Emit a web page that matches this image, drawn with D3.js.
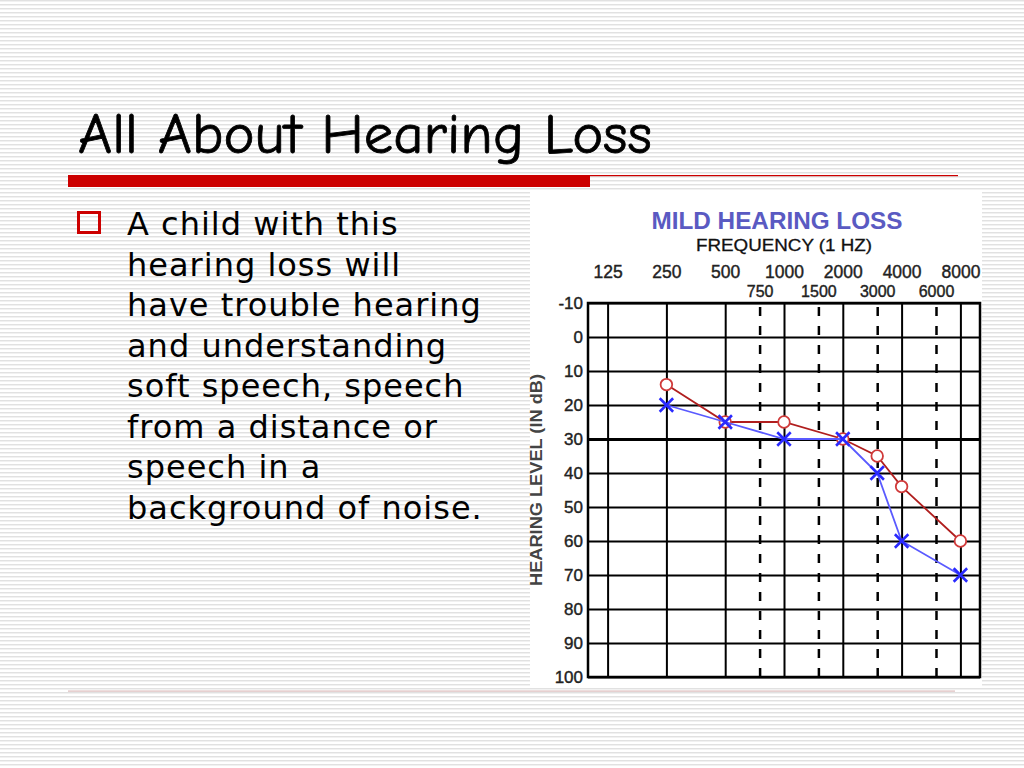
<html>
  <head>
    <meta charset="utf-8">
    <script src="https://d3js.org/d3.v7.min.js"></script>
    <style>
      body { margin: 0; background: #fff; }
      svg { display: block; }
    </style>
  </head>
  <body>
    <svg id="slide" width="1024" height="768"></svg>

    <script>
      // audiogram readings
      var freqs = [250, 500, 1000, 2000, 3000, 4000, 8000];
      var redDb = [14, 25, 25, 30, 35, 44, 60];     // circles
      var blueDb = [20, 25, 30, 30, 40, 60, 70];    // crosses

      var majorFreqs = [125, 250, 500, 1000, 2000, 4000, 8000];
      var midFreqs = [750, 1500, 3000, 6000];
      var dbTicks = [-10, 0, 10, 20, 30, 40, 50, 60, 70, 80, 90, 100];

      var bodyLines = [
        "A child with this",
        "hearing loss will",
        "have trouble hearing",
        "and understanding",
        "soft speech, speech",
        "from a distance or",
        "speech in a",
        "background of noise."
      ];

      var svg = d3.select("#slide");

      // striped slide background
      var defs = svg.append("defs");
      var pat = defs.append("pattern")
        .attr("id", "stripes")
        .attr("patternUnits", "userSpaceOnUse")
        .attr("width", 8).attr("height", 4);
      pat.append("rect").attr("width", 8).attr("height", 4).attr("fill", "#fff");
      pat.append("rect").attr("y", 0).attr("width", 8).attr("height", 1).attr("fill", "#e1e1e1");
      pat.append("rect").attr("y", 1).attr("width", 8).attr("height", 1).attr("fill", "#f1f1f1");
      svg.append("rect").attr("width", 1024).attr("height", 768).attr("fill", "url(#stripes)");

      // slide title
      svg.append("text")
        .attr("x", 78).attr("y", 153)
        .attr("textLength", 574).attr("lengthAdjust", "spacingAndGlyphs")
        .style("font-family", "'Comic Sans MS', 'Comic Neue', 'DejaVu Sans', sans-serif")
        .style("font-size", "57px")
        .attr("fill", "#000")
        .attr("stroke", "#000").attr("stroke-width", 0.8)
        .text("All About Hearing Loss");

      // red rule under the title
      svg.append("rect").attr("x", 68).attr("y", 175).attr("width", 522).attr("height", 12).attr("fill", "#cc0000");
      svg.append("rect").attr("x", 590).attr("y", 175).attr("width", 368).attr("height", 1.2).attr("fill", "#cc0000");
      // faint footer rule
      svg.append("rect").attr("x", 68).attr("y", 690.5).attr("width", 887).attr("height", 1.2).attr("fill", "#dcbcbc");

      // bullet and body text
      svg.append("rect")
        .attr("x", 78.5).attr("y", 212.5).attr("width", 21).attr("height", 20)
        .attr("fill", "none").attr("stroke", "#cc0000").attr("stroke-width", 3);

      svg.append("g").selectAll("text")
        .data(bodyLines)
        .join("text")
        .attr("x", 127)
        .attr("y", function(d, i) { return 235 + i * 40.5; })
        .style("font-family", "Verdana, 'DejaVu Sans', sans-serif")
        .style("font-size", "32px")
        .style("letter-spacing", "1px")
        .attr("fill", "#000")
        .text(function(d) { return d; });

      // white panel for the audiogram picture
      svg.append("rect").attr("x", 530).attr("y", 190).attr("width", 452).attr("height", 497).attr("fill", "#fff");

      var plotLeft = 588, plotRight = 980, plotTop = 303, plotBottom = 677;

      var x = d3.scaleLog().base(2)
        .domain([125 * Math.pow(2, -1 / 3), 8000 * Math.pow(2, 1 / 3)])
        .range([plotLeft, plotRight]);
      var y = d3.scaleLinear().domain([-10, 100]).range([plotTop, plotBottom]);

      var chart = svg.append("g");
      var sans = "'Liberation Sans', Arial, sans-serif";
      var plain = function(d) { return String(d); };   // keep a hyphen for "-10"

      // headings
      chart.append("text")
        .attr("x", 777).attr("y", 229)
        .attr("text-anchor", "middle")
        .attr("textLength", 251).attr("lengthAdjust", "spacingAndGlyphs")
        .style("font-family", sans).style("font-size", "24px").style("font-weight", "bold")
        .attr("fill", "#5a5ac2")
        .text("MILD HEARING LOSS");

      chart.append("text")
        .attr("x", 784).attr("y", 251)
        .attr("text-anchor", "middle")
        .attr("textLength", 176).attr("lengthAdjust", "spacingAndGlyphs")
        .style("font-family", sans).style("font-size", "17px")
        .attr("fill", "#111").attr("stroke", "#111").attr("stroke-width", 0.3)
        .text("FREQUENCY (1 HZ)");

      chart.append("text")
        .attr("transform", "translate(542,480) rotate(-90)")
        .attr("text-anchor", "middle")
        .attr("textLength", 212).attr("lengthAdjust", "spacingAndGlyphs")
        .style("font-family", sans).style("font-size", "16px").style("font-weight", "bold")
        .attr("fill", "#444")
        .text("HEARING LEVEL (IN dB)");

      // horizontal grid + dB labels
      var yAxisG = chart.append("g")
        .attr("transform", "translate(" + plotLeft + ",0)")
        .call(d3.axisLeft(y).tickValues(dbTicks).tickFormat(plain)
          .tickSizeInner(-(plotRight - plotLeft)).tickSizeOuter(0).tickPadding(5));
      yAxisG.select(".domain").remove();
      yAxisG.selectAll(".tick line")
        .attr("stroke", "#000")
        .attr("stroke-width", function(d) { return d === 30 ? 3 : 2; });
      yAxisG.selectAll(".tick text")
        .style("font-family", sans).style("font-size", "17px")
        .attr("fill", "#222").attr("stroke", "#222").attr("stroke-width", 0.4);

      // vertical solid grid at octaves
      var xGrid = chart.append("g")
        .attr("transform", "translate(0," + plotBottom + ")")
        .call(d3.axisBottom(x).tickValues(majorFreqs).tickSizeInner(-(plotBottom - plotTop)).tickSizeOuter(0).tickFormat(""));
      xGrid.select(".domain").remove();
      xGrid.selectAll(".tick line").attr("stroke", "#000").attr("stroke-width", 2);

      // dashed mid-octave lines
      var xMid = chart.append("g")
        .attr("transform", "translate(0," + plotBottom + ")")
        .call(d3.axisBottom(x).tickValues(midFreqs).tickSizeInner(-(plotBottom - plotTop)).tickSizeOuter(0).tickFormat(""));
      xMid.select(".domain").remove();
      xMid.selectAll(".tick line")
        .attr("stroke", "#000").attr("stroke-width", 2.5)
        .attr("stroke-dasharray", "9,10");

      // frequency labels, two rows
      var topAxis = chart.append("g")
        .attr("transform", "translate(0," + plotTop + ")")
        .call(d3.axisTop(x).tickValues(majorFreqs).tickFormat(plain).tickSize(0).tickPadding(25));
      topAxis.select(".domain").remove();
      topAxis.selectAll(".tick text")
        .style("font-family", sans).style("font-size", "17.5px")
        .attr("fill", "#222").attr("stroke", "#222").attr("stroke-width", 0.4);

      var midAxis = chart.append("g")
        .attr("transform", "translate(0," + plotTop + ")")
        .call(d3.axisTop(x).tickValues(midFreqs).tickFormat(plain).tickSize(0).tickPadding(6));
      midAxis.select(".domain").remove();
      midAxis.selectAll(".tick text")
        .style("font-family", sans).style("font-size", "16px")
        .attr("fill", "#222").attr("stroke", "#222").attr("stroke-width", 0.4);

      // frame
      chart.append("rect")
        .attr("x", plotLeft).attr("y", plotTop)
        .attr("width", plotRight - plotLeft).attr("height", plotBottom - plotTop)
        .attr("fill", "none").attr("stroke", "#000").attr("stroke-width", 2.5);

      var redPts = freqs.map(function(f, i) { return [f, redDb[i]]; });
      var bluePts = freqs.map(function(f, i) { return [f, blueDb[i]]; });

      var line = d3.line()
        .x(function(d) { return x(d[0]); })
        .y(function(d) { return y(d[1]); });

      chart.append("path")
        .datum(redPts)
        .attr("d", line)
        .attr("fill", "none").attr("stroke", "#b01e1e").attr("stroke-width", 1.8);

      chart.append("g").selectAll("circle")
        .data(redPts)
        .join("circle")
        .attr("cx", function(d) { return x(d[0]); })
        .attr("cy", function(d) { return y(d[1]); })
        .attr("r", 5.8)
        .attr("fill", "#fff").attr("stroke", "#d03a3a").attr("stroke-width", 1.8);

      chart.append("path")
        .datum(bluePts)
        .attr("d", line)
        .attr("fill", "none").attr("stroke", "#5a5aff").attr("stroke-width", 1.8);

      var cross = d3.symbol().type(d3.symbolTimes).size(120);
      chart.append("g").selectAll("path")
        .data(bluePts)
        .join("path")
        .attr("transform", function(d) { return "translate(" + x(d[0]) + "," + y(d[1]) + ")"; })
        .attr("d", cross)
        .attr("fill", "#2a2aff").attr("stroke", "#2a2aff").attr("stroke-width", 2.6)
        .attr("stroke-linejoin", "round");
    </script>
  </body>
</html>
